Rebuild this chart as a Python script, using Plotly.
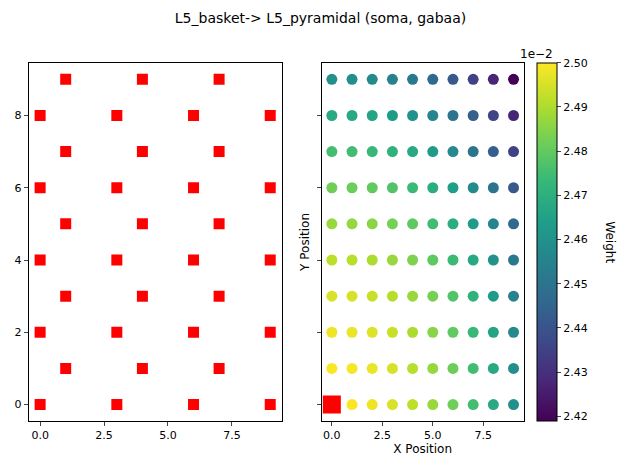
import plotly.graph_objects as go

# left panel: pre-synaptic cell positions
pre_x = [0, 3, 6, 9, 1, 4, 7, 0, 3, 6, 9, 1, 4, 7, 0, 3, 6, 9, 1, 4, 7, 0, 3, 6, 9, 1, 4, 7, 0, 3, 6, 9, 1, 4, 7]
pre_y = [0, 0, 0, 0, 1, 1, 1, 2, 2, 2, 2, 3, 3, 3, 4, 4, 4, 4, 5, 5, 5, 6, 6, 6, 6, 7, 7, 7, 8, 8, 8, 8, 9, 9, 9]

# right panel: grid weights (x1e-2), rows = y 0..9, cols = x 0..9
grid_x = list(range(10))
grid_y = list(range(10))
weights = [
    [2.5000, 2.4995, 2.4980, 2.4955, 2.4920, 2.4875, 2.4820, 2.4755, 2.4680, 2.4595],
    [2.4995, 2.4990, 2.4975, 2.4950, 2.4915, 2.4870, 2.4815, 2.4750, 2.4675, 2.4590],
    [2.4980, 2.4975, 2.4960, 2.4935, 2.4900, 2.4855, 2.4800, 2.4735, 2.4660, 2.4575],
    [2.4955, 2.4950, 2.4935, 2.4910, 2.4875, 2.4830, 2.4775, 2.4710, 2.4635, 2.4550],
    [2.4920, 2.4915, 2.4900, 2.4875, 2.4840, 2.4795, 2.4740, 2.4675, 2.4600, 2.4515],
    [2.4875, 2.4870, 2.4855, 2.4830, 2.4795, 2.4750, 2.4695, 2.4630, 2.4555, 2.4470],
    [2.4820, 2.4815, 2.4800, 2.4775, 2.4740, 2.4695, 2.4640, 2.4575, 2.4500, 2.4415],
    [2.4755, 2.4750, 2.4735, 2.4710, 2.4675, 2.4630, 2.4575, 2.4510, 2.4435, 2.4350],
    [2.4680, 2.4675, 2.4660, 2.4635, 2.4600, 2.4555, 2.4500, 2.4435, 2.4360, 2.4275],
    [2.4595, 2.4590, 2.4575, 2.4550, 2.4515, 2.4470, 2.4415, 2.4350, 2.4275, 2.4190],
]
post_x = [0]
post_y = [0]
cbar_ticks = [2.42, 2.43, 2.44, 2.45, 2.46, 2.47, 2.48, 2.49, 2.50]

px, py, pw = [], [], []
for j, yv in enumerate(grid_y):
    for i, xv in enumerate(grid_x):
        px.append(xv); py.append(yv); pw.append(weights[j][i])

fig = go.Figure()
fig.add_trace(go.Scatter(x=pre_x, y=pre_y, mode="markers",
                         marker=dict(symbol="square", size=11, color="red"),
                         xaxis="x", yaxis="y", showlegend=False))
fig.add_trace(go.Scatter(x=px, y=py, mode="markers",
                         marker=dict(size=11, color=pw, colorscale="Viridis",
                                     cmin=2.419, cmax=2.50,
                                     colorbar=dict(x=0.846, xanchor="left", xpad=0, ypad=0,
                                                   y=0.131, yanchor="bottom",
                                                   len=0.753, lenmode="fraction", thickness=20,
                                                   thicknessmode="pixels", outlinecolor="black", outlinewidth=1,
                                                   tickvals=cbar_ticks,
                                                   ticktext=["%.2f" % t for t in cbar_ticks],
                                                   ticks="outside", ticklen=4)),
                         xaxis="x2", yaxis="y2", showlegend=False))
fig.add_trace(go.Scatter(x=post_x, y=post_y, mode="markers",
                         marker=dict(symbol="square", size=18, color="red"),
                         xaxis="x2", yaxis="y2", showlegend=False))

ax = dict(showline=True, linecolor="black", mirror=True, ticks="outside", ticklen=4,
          showgrid=False, zeroline=False, tickfont=dict(size=11))
xt = dict(tickvals=[0, 2.5, 5, 7.5], ticktext=["0.0", "2.5", "5.0", "7.5"])
fig.update_layout(
    width=625, height=475, margin=dict(l=0, r=0, t=0, b=0),
    plot_bgcolor="white", paper_bgcolor="white",
    font=dict(family="DejaVu Sans", color="black", size=11),
    title=dict(text="L5_basket-> L5_pyramidal (soma, gabaa)", x=0.5, xanchor="center",
               yref="container", y=0.979, yanchor="middle", font=dict(size=14)),
    xaxis=dict(domain=[0.033, 0.438], range=[-0.45, 9.45], **xt, **ax),
    yaxis=dict(domain=[0.131, 0.884], range=[-0.45, 9.45], tickvals=[0, 2, 4, 6, 8], **ax),
    xaxis2=dict(domain=[0.502, 0.825], range=[-0.5, 9.5], anchor="y2", **xt,
                title=dict(text="X Position", standoff=2, font=dict(size=12)), **ax),
    yaxis2=dict(domain=[0.131, 0.884], range=[-0.45, 9.45], anchor="x2", tickvals=[0, 2, 4, 6, 8], showticklabels=False,
                title=dict(text="Y Position", standoff=4, font=dict(size=12)), **ax),
    annotations=[
        dict(text="1e\u22122", xref="paper", yref="paper", x=0.816, y=0.885, xanchor="left", yanchor="bottom",
             showarrow=False, font=dict(size=12)),
        dict(text="Weight", xref="paper", yref="paper", x=0.963, y=0.507, xanchor="center", yanchor="middle",
             textangle=90, showarrow=False, font=dict(size=12)),
    ],
)
fig.write_html("out.html")
